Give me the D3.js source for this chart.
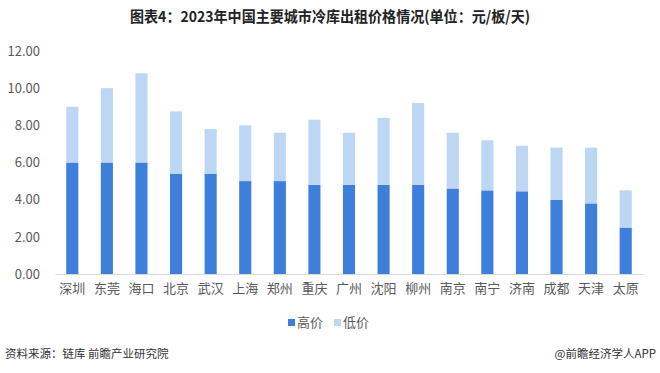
<!DOCTYPE html>
<html>
<head>
<meta charset="utf-8">
<script src="https://cdn.jsdelivr.net/npm/d3@7"></script>
<style>
  body { margin: 0; background: #fff; }
  text { font-family: "Noto Sans CJK SC", "Noto Sans", sans-serif; }
</style>
</head>
<body>
<div id="chart"></div>
<script>
// data
var cities = ["深圳", "东莞", "海口", "北京", "武汉", "上海", "郑州", "重庆", "广州",
  "沈阳", "柳州", "南京", "南宁", "济南", "成都", "天津", "太原"];
var highPrice = [6.0, 6.0, 6.0, 5.4, 5.4, 5.0, 5.0, 4.8, 4.8, 4.8, 4.8, 4.6, 4.5, 4.45, 4.0, 3.8, 2.5];
var lowPrice = [3.0, 4.0, 4.8, 3.35, 2.4, 3.0, 2.6, 3.5, 2.8, 3.6, 4.4, 3.0, 2.7, 2.45, 2.8, 3.0, 2.0];
var seriesNames = ["高价", "低价"];
var yTicks = [0, 2, 4, 6, 8, 10, 12];

var colors = ["#3d7fdb", "#bdd6f4"];

var svgWidth = 660;
var svgHeight = 373;

var margin = { top: 51, right: 17, bottom: 99, left: 55 };
var width = svgWidth - margin.left - margin.right;
var height = svgHeight - margin.top - margin.bottom;

var svg = d3.select("#chart")
  .append("svg")
  .attr("width", svgWidth)
  .attr("height", svgHeight);

// title
svg.append("text")
  .attr("x", svgWidth / 2)
  .attr("y", 22)
  .attr("text-anchor", "middle")
  .attr("font-size", "15px")
  .attr("font-weight", "bold")
  .attr("fill", "#222")
  .attr("textLength", 400)
  .attr("lengthAdjust", "spacingAndGlyphs")
  .text("图表4：2023年中国主要城市冷库出租价格情况(单位：元/板/天)");

var chartGroup = svg.append("g")
  .attr("transform", `translate(${margin.left}, ${margin.top})`);

var x = d3.scaleBand()
  .domain(cities)
  .range([0, width])
  .paddingInner(0.65)
  .paddingOuter(0.325);

var y = d3.scaleLinear()
  .domain([0, 12])
  .range([height, 0]);

// stack the two series
var rows = cities.map(function(c, i) {
  return { city: c, "高价": highPrice[i], "低价": lowPrice[i] };
});
var stacked = d3.stack().keys(seriesNames)(rows);

chartGroup.selectAll("g.series")
  .data(stacked)
  .enter()
  .append("g")
  .attr("fill", (d, i) => colors[i])
  .selectAll("rect")
  .data(d => d)
  .enter()
  .append("rect")
  .attr("x", d => x(d.data.city))
  .attr("y", d => y(d[1]))
  .attr("width", x.bandwidth())
  .attr("height", d => y(d[0]) - y(d[1]));

// y axis (labels only)
var leftAxis = d3.axisLeft(y)
  .tickValues(yTicks)
  .tickFormat(d3.format(".2f"))
  .tickSize(0)
  .tickPadding(15);

var yAxis = chartGroup.append("g").call(leftAxis);
yAxis.select(".domain").remove();
yAxis.selectAll("text")
  .attr("font-size", "13px")
  .attr("fill", "#595959");

// x axis
var bottomAxis = d3.axisBottom(x).tickSize(0).tickPadding(10);
var xAxis = chartGroup.append("g")
  .attr("transform", `translate(0, ${height})`)
  .call(bottomAxis);
xAxis.select(".domain").attr("stroke", "#d9d9d9");
xAxis.selectAll("text")
  .attr("font-size", "13px")
  .attr("fill", "#595959");

// legend
var legend = svg.append("g")
  .attr("transform", "translate(288, 324)");
var legendX = [0, 46];
seriesNames.forEach(function(name, i) {
  legend.append("rect")
    .attr("x", legendX[i])
    .attr("y", -5)
    .attr("width", 7)
    .attr("height", 7)
    .attr("fill", colors[i]);
  legend.append("text")
    .attr("x", legendX[i] + 9)
    .attr("y", 3)
    .attr("font-size", "13px")
    .attr("fill", "#595959")
    .text(name);
});

// footer
svg.append("text")
  .attr("x", 5)
  .attr("y", 358)
  .attr("font-size", "11.5px")
  .attr("fill", "#333")
  .text("资料来源：链库 前瞻产业研究院");

svg.append("text")
  .attr("x", 656)
  .attr("y", 358)
  .attr("text-anchor", "end")
  .attr("font-size", "11.5px")
  .attr("fill", "#333")
  .text("@前瞻经济学人APP");
</script>
</body>
</html>
